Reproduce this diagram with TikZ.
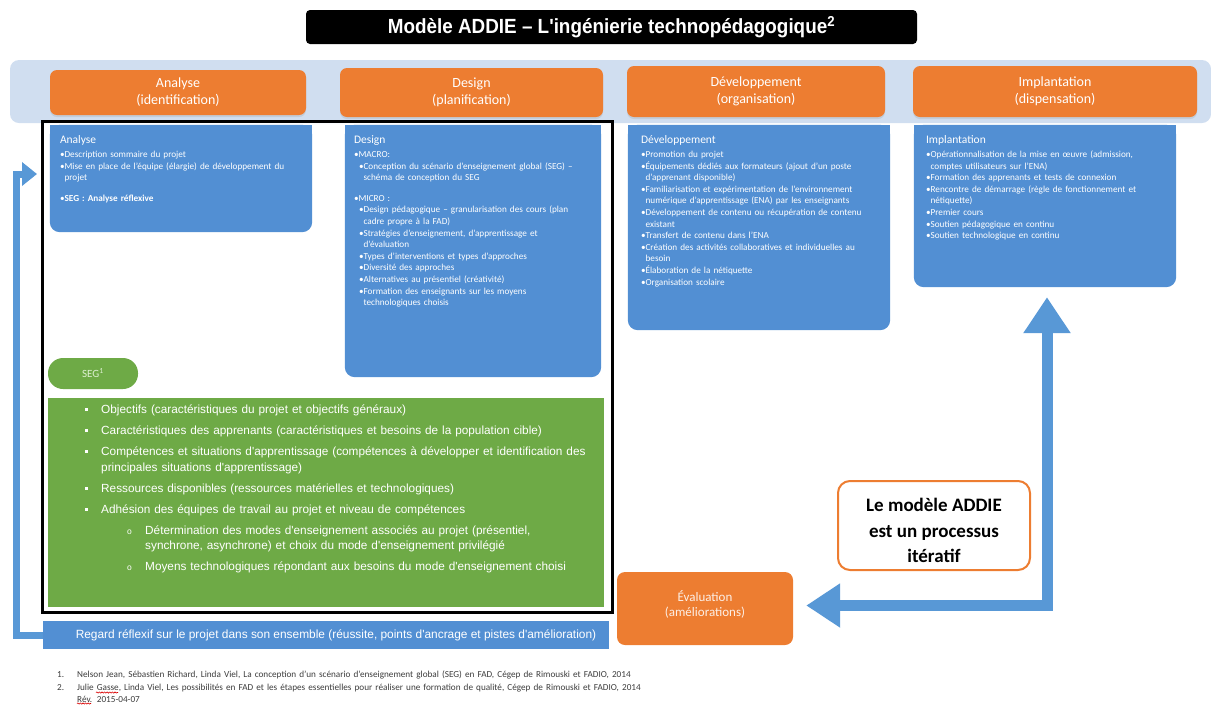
\documentclass[tikz,border=0pt]{standalone}
\usepackage{fontspec}
\setmainfont{Carlito}
\newfontfamily\arialf{Liberation Sans}
\newfontfamily\titlef[FakeStretch=0.92]{Liberation Sans}
\usetikzlibrary{arrows.meta,shadows,calc,decorations.pathmorphing}

\definecolor{addieorange}{RGB}{237,125,49}
\definecolor{boxblue}{RGB}{82,143,211}
\definecolor{arrowblue}{RGB}{88,152,214}
\definecolor{bandblue}{RGB}{208,222,240}
\definecolor{seggreen}{RGB}{110,170,70}
\definecolor{segtext}{RGB}{222,240,210}
\definecolor{footgray}{RGB}{60,60,60}

% list helpers for the text blocks
\newcommand{\bhead}[1]{{\fontsize{11.5}{13}\selectfont #1\par}\vspace{2pt}}
\newcommand{\bitem}[1]{\par\hangindent=4.6pt\hangafter=1\noindent\makebox[4.6pt][l]{\textbullet}#1}
\newcommand{\bsub}[1]{\par\hangindent=9.6pt\hangafter=1\noindent\hspace*{5pt}\makebox[4.6pt][l]{\textbullet}#1}
\newcommand{\gitem}[1]{\par\hangindent=16pt\hangafter=1\noindent\makebox[16pt][l]{\raisebox{2.6pt}{\rule{2.9pt}{2.9pt}}}#1\par\vspace{5.5pt}}
\newcommand{\gsub}[1]{\par\hangindent=60pt\hangafter=1\noindent\hspace*{42pt}\makebox[18pt][l]{{\fontsize{8.5}{8}\selectfont o}}#1\par\vspace{5.5pt}}
\newcommand{\fnline}[2]{\par\hangindent=20pt\hangafter=1\noindent\makebox[20pt][l]{#1}#2}

\begin{document}
\begin{tikzpicture}[x=1pt,y=-1pt,
  boxsize/.style 2 args={minimum width=#1pt, minimum height=#2pt},
  titlebox/.style={fill=black, rounded corners=4pt, text=white, inner sep=0pt,
    font=\titlef\bfseries\fontsize{20.5}{22}\selectfont},
  band/.style={fill=bandblue, rounded corners=9pt, inner sep=0pt},
  hdrbox/.style={fill=addieorange, rounded corners=7pt, text=white, align=center,
    inner sep=0pt, font=\fontsize{14}{17}\selectfont,
    drop shadow={opacity=0.18, shadow xshift=0pt, shadow yshift=-2pt}},
  boxarea/.style={inner sep=0pt, draw=none},
  boxtxt/.style={anchor=north west, inner sep=0pt, align=left, text=white,
    font=\fontsize{9.2}{11.6}\selectfont},
  segpill/.style={fill=seggreen, rounded corners=15pt, text=segtext, inner sep=0pt,
    font=\fontsize{11}{12}\selectfont},
  greenbox/.style={fill=seggreen, inner sep=0pt},
  greentxt/.style={anchor=north west, inner sep=0pt, align=left, text=white,
    font=\arialf\fontsize{11.8}{15.5}\selectfont},
  frame/.style={draw=black, line width=3pt, inner sep=0pt},
  regardbar/.style={fill=boxblue, inner sep=0pt, text=white,
    font=\arialf\fontsize{11.9}{13}\selectfont},
  evalbox/.style={fill=addieorange, rounded corners=8pt, inner sep=0pt},
  evaltxt/.style={inner sep=0pt, align=center, text=white!88!addieorange,
    font=\fontsize{13}{15.5}\selectfont},
  notebox/.style={draw=addieorange, line width=2pt, fill=white, rounded corners=12pt,
    inner sep=0pt},
  notetxt/.style={inner sep=0pt, align=center, font=\bfseries\fontsize{19}{25.5}\selectfont},
  loopback/.style={draw=arrowblue, line width=7pt, line join=miter,
    -{Triangle[length=15pt,width=23pt]}},
  bigloop/.style={draw=arrowblue, line width=11pt, line join=miter,
    {Triangle[length=34pt,width=42pt]}-{Triangle[length=36pt,width=45pt]}},
  spellmark/.style={draw=red!85!black, line width=0.6pt, decorate,
    decoration={snake, amplitude=0.6pt, segment length=2.6pt}},
]
\useasboundingbox (0,0) rectangle (1211,705);

% title
\node[titlebox, boxsize={611}{34}] (title) at (611.5,27)
  {Modèle ADDIE – L'ingénierie technopédagogique\textsuperscript{2}};

% phase band and phase headers
\node[band, boxsize={1201}{63}] (band) at (610.5,91.5) {};
\node[hdrbox, boxsize={256}{45}] (hAn) at (178,92.5) {Analyse\\(identification)};
\node[hdrbox, boxsize={263}{49}] (hDe) at (471.5,92.5) {Design\\(planification)};
\node[hdrbox, boxsize={258}{51}] (hDv) at (756,91.5) {Développement\\(organisation)};
\node[hdrbox, boxsize={284}{51}] (hIm) at (1055,91.5) {Implantation\\(dispensation)};

% phase content boxes (square top, rounded bottom)
\node[boxarea, boxsize={262}{107}] (an) at (181,178.5) {};
\node[boxarea, boxsize={256}{252}] (de) at (473,251) {};
\node[boxarea, boxsize={262}{205}] (dv) at (759,227.5) {};
\node[boxarea, boxsize={262}{162}] (im) at (1045,206) {};
\foreach \b in {an,de,dv,im}{
  \fill[boxblue, rounded corners=10pt] (\b.north west) rectangle (\b.south east);
  \fill[boxblue] (\b.north west) rectangle ($(\b.north east)+(0,20)$);
}

\node[boxtxt, text width=250pt] (anTxt) at ($(an.north west)+(10,11)$) {%
  \bhead{Analyse}%
  \bitem{Description sommaire du projet}%
  \bitem{Mise en place de l'équipe (élargie) de développement du\newline projet}%
  \par\vspace{9pt}%
  \bitem{\textbf{SEG : Analyse réflexive}}\par};

\node[boxtxt, text width=244pt] (deTxt) at ($(de.north west)+(9,11)$) {%
  \bhead{Design}%
  \bitem{MACRO:}%
  \bsub{Conception du scénario d'enseignement global (SEG) –\newline schéma de conception du SEG}%
  \par\vspace{9pt}%
  \bitem{MICRO :}%
  \bsub{Design pédagogique – granularisation des cours (plan\newline cadre propre à la FAD)}%
  \bsub{Stratégies d'enseignement, d'apprentissage et\newline d'évaluation}%
  \bsub{Types d'interventions et types d'approches}%
  \bsub{Diversité des approches}%
  \bsub{Alternatives au présentiel (créativité)}%
  \bsub{Formation des enseignants sur les moyens\newline technologiques choisis}\par};

\node[boxtxt, text width=250pt] (dvTxt) at ($(dv.north west)+(13,11)$) {%
  \bhead{Développement}%
  \bitem{Promotion du projet}%
  \bitem{Équipements dédiés aux formateurs (ajout d'un poste\newline d'apprenant disponible)}%
  \bitem{Familiarisation et expérimentation de l'environnement\newline numérique d'apprentissage (ENA) par les enseignants}%
  \bitem{Développement de contenu ou récupération de contenu\newline existant}%
  \bitem{Transfert de contenu dans l'ENA}%
  \bitem{Création des activités collaboratives et individuelles au\newline besoin}%
  \bitem{Élaboration de la nétiquette}%
  \bitem{Organisation scolaire}\par};

\node[boxtxt, text width=250pt] (imTxt) at ($(im.north west)+(12,11)$) {%
  \bhead{Implantation}%
  \bitem{Opérationnalisation de la mise en œuvre (admission,\newline comptes utilisateurs sur l'ENA)}%
  \bitem{Formation des apprenants et tests de connexion}%
  \bitem{Rencontre de démarrage (règle de fonctionnement et\newline nétiquette)}%
  \bitem{Premier cours}%
  \bitem{Soutien pédagogique en continu}%
  \bitem{Soutien technologique en continu}\par};

% SEG block
\node[segpill, boxsize={90}{31}] (seg) at (93,373.5) {SEG\textsuperscript{1}};
\node[greenbox, boxsize={556}{209}] (green) at (326,502.5) {};
\node[greentxt, text width=515pt] (greenTxt) at (85,398) {%
  \gitem{Objectifs (caractéristiques du projet et objectifs généraux)}%
  \gitem{Caractéristiques des apprenants (caractéristiques et besoins de la population cible)}%
  \gitem{Compétences et situations d'apprentissage (compétences à développer et identification des\newline principales situations d'apprentissage)}%
  \gitem{Ressources disponibles (ressources matérielles et technologiques)}%
  \gitem{Adhésion des équipes de travail au projet et niveau de compétences}%
  \gsub{Détermination des modes d'enseignement associés au projet (présentiel,\newline synchrone, asynchrone) et choix du mode d'enseignement privilégié}%
  \gsub{Moyens technologiques répondant aux besoins du mode d'enseignement choisi}};

% frame around analysis and design stage
\node[frame, boxsize={570}{491}] (frame) at (327,366.5) {};

% reflective review bar and loop back to analysis
\node[regardbar, boxsize={566}{28}] (regard) at (326,635)
  {\hspace*{20pt}Regard réflexif sur le projet dans son ensemble (réussite, points d'ancrage et pistes d'amélioration)};
\coordinate (tipL) at (37,174);
\draw[loopback] (regard.west) -- ++(-26,0) |- (tipL);

% evaluation and iterative loop
\node[evalbox, boxsize={176}{73}] (eval) at (705,608.5) {};
\node[evaltxt] (evalTxt) at ($(eval.center)+(0,-4)$) {Évaluation\\(améliorations)};
\node[notebox, boxsize={192}{89}] (note) at (934,525.5) {};
\node[notetxt] (noteTxt) at ($(note.center)+(0,5)$) {Le modèle ADDIE\\est un processus\\itératif};
\coordinate (tipE) at ($(eval.east)+(13,-3)$);
\coordinate (tipI) at ($(im.south)+(2,10)$);
\draw[bigloop] (tipE) -| (tipI);

% references
\node[anchor=north west, inner sep=0pt, align=left, text=footgray, text width=700pt,
  font=\fontsize{9.2}{12.5}\selectfont] (notes) at (57,665) {%
  \fnline{1.}{Nelson Jean, Sébastien Richard, Linda Viel, La conception d'un scénario d'enseignement global (SEG) en FAD, Cégep de Rimouski et FADIO, 2014}%
  \fnline{2.}{Julie Gasse, Linda Viel, Les possibilités en FAD et les étapes essentielles pour réaliser une formation de qualité, Cégep de Rimouski et FADIO, 2014\newline Rév. 2015-04-07}\par};
% spell-checker marks under two words of the references
\draw[spellmark] ($(notes.north west)+(39,27.5)$) -- ++(22,0);
\draw[spellmark] ($(notes.north west)+(20,38.5)$) -- ++(14,0);
\end{tikzpicture}
\end{document}
